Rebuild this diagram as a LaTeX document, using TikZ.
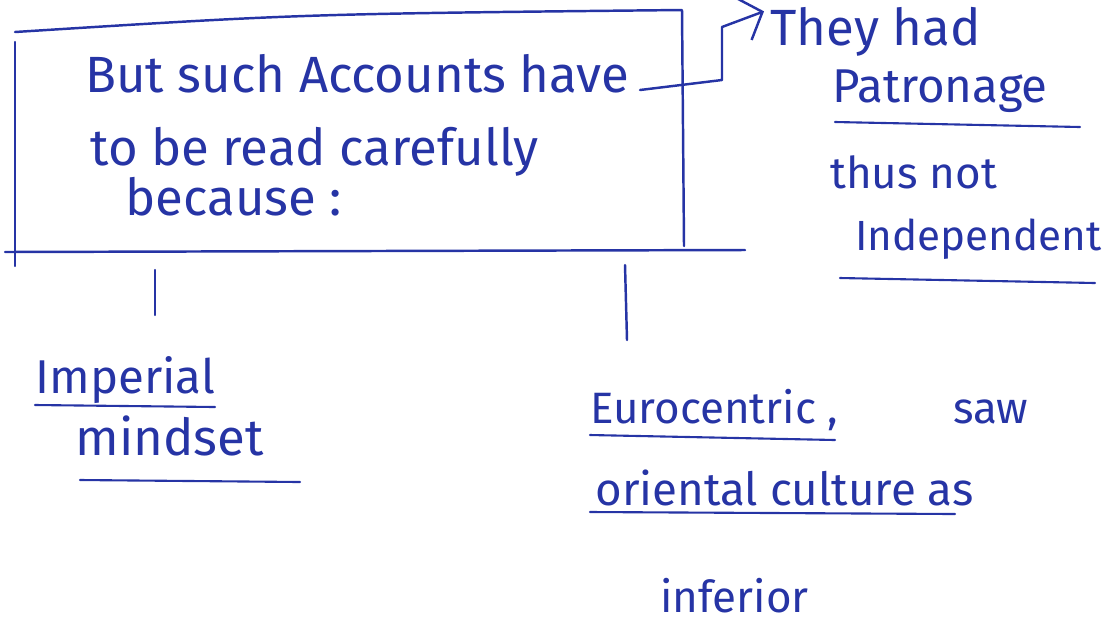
\documentclass[tikz,border=0pt]{standalone}
\usepackage{fontspec}
\setmainfont{Fira Sans}
\usetikzlibrary{arrows.meta, positioning, calc}
\definecolor{ink}{RGB}{38,52,165}

\begin{document}
\begin{tikzpicture}[
      x=0.02cm, y=-0.02cm,
      pen/.style={draw=ink, line width=1.4pt, line cap=round, line join=round},
      note/.style={text=ink, font=\fontsize{25}{30}\selectfont, anchor=base west, inner sep=0pt},
      bignote/.style={note, font=\fontsize{29}{34}\selectfont},
      uline/.style={pen, line width=1.2pt},
      arrow/.style={pen, -{Straight Barb[length=4mm, width=9mm]}}
    ]
      \useasboundingbox (0,0) rectangle (1114,633);

      % question box
      \node[bignote] (q1) at (85,92) {But such Accounts have};
      \node[bignote] (q2) at (90,165) {to be read carefully};
      \node[bignote] (q3) at (125,215) {because :};

      \coordinate (tl) at (15,42);
      \coordinate (tr) at (682,10);
      \coordinate (br) at (684,246);
      \coordinate (bl) at (15,266);
      \draw[pen] (15,32) .. controls (300,14) .. (tr) -- (br);
      \draw[pen] (tl) -- (bl);
      \draw[pen] (5,252) -- (745,250);

      % first reason
      \node[bignote] (had) at (770,45) {They had};
      \node[note, font=\fontsize{27}{32}\selectfont] (patr) at (832,102) {Patronage};
      \node[note] (thus) at (830,188) {thus not};
      \node[note, font=\fontsize{24}{28}\selectfont] (indep) at (855,250) {Independent};
      \coordinate (hook) at (640,90);
      \draw[arrow] (hook) -- (722,80) -- (722,27) -- ($(had.west)+(-6,-20)$);
      \draw[uline] (835,122) -- (1080,127);
      \draw[uline] (840,278) -- (1095,283);

      % second reason
      \node[note, font=\fontsize{27}{32}\selectfont] (imp) at (35,393) {Imperial};
      \node[bignote] (mind) at (75,455) {mindset};
      \draw[pen] (155,270) -- (155,315);
      \draw[uline] (35,405) -- (215,407);
      \draw[uline] (80,480) -- (300,482);

      % third reason
      \node[note] (euro) at (590,423) {Eurocentric ,\hspace{2.3cm}saw};
      \node[note, font=\fontsize{26}{31}\selectfont] (orient) at (595,505) {oriental culture as};
      \node[note] (inf) at (660,612) {inferior};
      \draw[pen] (625,265) -- (627,340);
      \draw[uline] (590,435) -- (835,440);
      \draw[uline] (590,512) -- (955,514);
    \end{tikzpicture}
\end{document}
